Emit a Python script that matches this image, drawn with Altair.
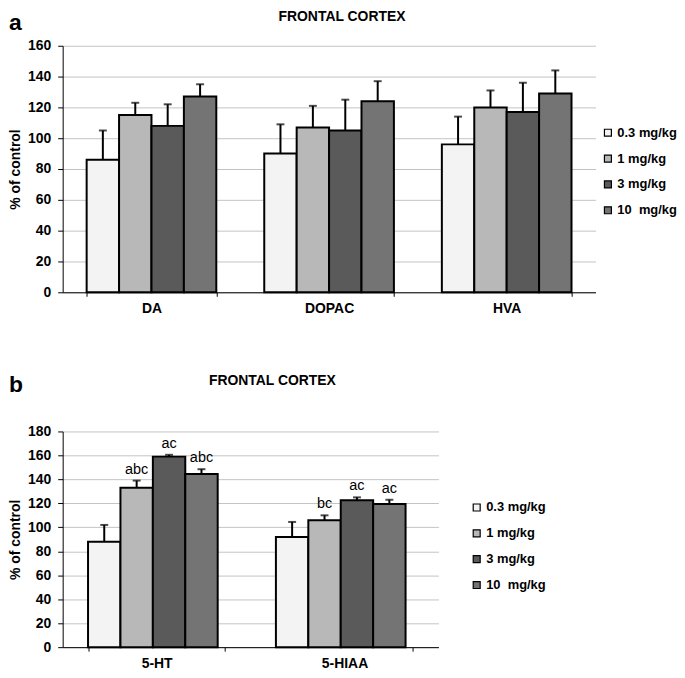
import altair as alt
import pandas as pd

FONT = "Liberation Sans"

doses = ["0.3 mg/kg", "1 mg/kg", "3 mg/kg", "10\u00a0 mg/kg"]
dose_fills = ["#f3f3f3", "#b8b8b8", "#5a5a5a", "#747474"]

# Panel a: frontal cortex, dopamine and metabolites (% of control)
compounds_a = ["DA", "DOPAC", "HVA"]
da_mean = [86, 115, 108, 127]
da_err = [19, 8, 14, 8]
dopac_mean = [90, 107, 105, 124]
dopac_err = [19, 14, 20, 13]
hva_mean = [96, 120, 117, 129]
hva_err = [18, 11, 19, 15]

# Panel b: frontal cortex, serotonin and metabolite (% of control)
compounds_b = ["5-HT", "5-HIAA"]
ht_mean = [88, 133, 159, 144.5]
ht_err = [14, 6, 1.5, 4]
ht_sig = ["", "abc", "ac", "abc"]
hiaa_mean = [92, 106, 122.5, 119.5]
hiaa_err = [12.5, 4, 2.5, 3.5]
hiaa_sig = ["", "bc", "ac", "ac"]


def build(compounds, means, errs, sigs):
    rows = []
    for c, m, e, s in zip(compounds, means, errs, sigs):
        for d, mv, ev, sv in zip(doses, m, e, s):
            rows.append({"compound": c, "dose": d, "mean": mv, "top": mv + ev, "sig": sv})
    return pd.DataFrame(rows)


df_a = build(compounds_a, [da_mean, dopac_mean, hva_mean], [da_err, dopac_err, hva_err],
             [[""] * 4] * 3)
df_b = build(compounds_b, [ht_mean, hiaa_mean], [ht_err, hiaa_err], [ht_sig, hiaa_sig])


def panel(df, compounds, ymax, width, height, letter, title_x, title_y, tag_y,
          legend_x, legend_y, with_sig):
    x = alt.X("compound:N", sort=compounds, title=None,
              scale=alt.Scale(paddingInner=0.27, paddingOuter=0.135),
              axis=alt.Axis(labelAngle=0, labelFontSize=14, labelFontWeight="bold",
                            labelColor="black", tickBand="extent", tickSize=4,
                            tickColor="black", domainColor="black", labelPadding=5,
                            grid=False))
    xo = alt.XOffset("dose:N", sort=doses, scale=alt.Scale(paddingInner=0, paddingOuter=0))

    def yenc(field):
        return alt.Y(field, title="% of control",
                     scale=alt.Scale(domain=[0, ymax], nice=False),
                     axis=alt.Axis(values=list(range(0, ymax + 1, 20)), labelFontSize=14,
                                   labelFontWeight="bold", labelColor="black", tickSize=5,
                                   tickColor="black", domainColor="black", labelPadding=7,
                                   titleFontSize=14, titleFontWeight="bold",
                                   titleColor="black", titlePadding=5, grid=True,
                                   gridColor="#c4c4c4"))

    color = alt.Color("dose:N", sort=doses,
                      scale=alt.Scale(domain=doses, range=dose_fills),
                      legend=alt.Legend(title=None, orient="none", legendX=legend_x,
                                        legendY=legend_y, symbolType="square",
                                        symbolSize=49, symbolStrokeColor="black",
                                        symbolStrokeWidth=1.2, labelFontSize=13,
                                        labelFontWeight="bold", labelColor="black",
                                        rowPadding=12, labelOffset=3, padding=0))
    base = alt.Chart(df)
    bars = base.mark_bar(stroke="black", strokeWidth=2).encode(
        x=x, xOffset=xo, y=yenc("mean:Q"), color=color)
    rules = base.mark_rule(color="black", strokeWidth=2).encode(
        x=x, xOffset=xo, y=yenc("mean:Q"), y2="top:Q")
    caps = base.mark_tick(color="black", thickness=2, size=8, orient="horizontal").encode(
        x=x, xOffset=xo, y=yenc("top:Q"))
    layers = [rules, bars, caps]
    if with_sig:
        sig = base.mark_text(fontSize=14.5, dy=-7, baseline="alphabetic", color="black").encode(
            x=x, xOffset=xo, y=yenc("top:Q"), text="sig:N")
        layers.append(sig)
    title = alt.Chart(pd.DataFrame({"t": ["FRONTAL CORTEX"]})).mark_text(
        fontSize=14, fontWeight="bold", baseline="middle", color="black").encode(
        text="t:N", x=alt.value(title_x), y=alt.value(title_y))
    tag = alt.Chart(pd.DataFrame({"t": [letter]})).mark_text(
        fontSize=23, fontWeight="bold", baseline="middle", align="left", color="black").encode(
        text="t:N", x=alt.value(-54), y=alt.value(tag_y))
    return alt.layer(*layers, title, tag).properties(width=width, height=height)


pa = panel(df_a, compounds_a, 160, 536, 248, "a", 281, -29, -23, 542, 81, False)
pb = panel(df_b, compounds_b, 180, 378, 217, "b", 211, -51, -47, 410, 70, True)

chart = alt.vconcat(pa, pb, spacing=59).resolve_scale(color="independent").configure(
    font=FONT, padding=0
).configure_view(stroke=None)

chart.save("out.html", embed_options={"renderer": "svg", "actions": False})
